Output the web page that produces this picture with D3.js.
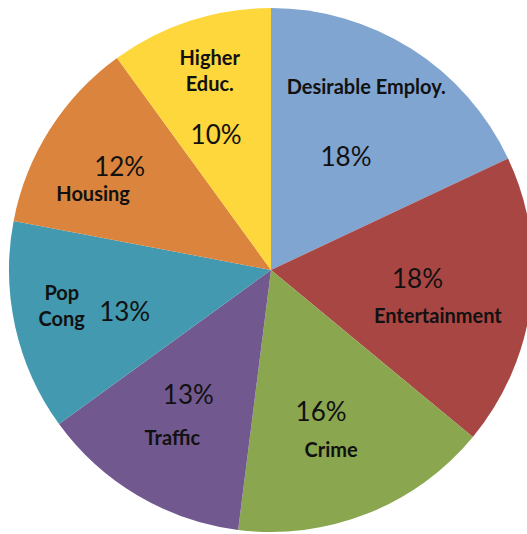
<!DOCTYPE html>
<html>
<head>
<meta charset="utf-8">
<script src="https://cdn.jsdelivr.net/npm/d3@7/dist/d3.min.js"></script>
<style>
  html, body { margin: 0; padding: 0; background: #fff; }
  svg { display: block; }
</style>
</head>
<body>
<script>
// Shares of each concern, clockwise from 12 o'clock
const categories = ["Desirable Employ.", "Entertainment", "Crime", "Traffic", "Pop Cong", "Housing", "Higher Educ."];
const shares = [18, 18, 16, 13, 13, 12, 10];
const nameLines = [["Desirable Employ."], ["Entertainment"], ["Crime"], ["Traffic"], ["Pop", "Cong"], ["Housing"], ["Higher", "Educ."]];
const colors = ["#80A5D0", "#A84644", "#8AA64F", "#71588F", "#4399AF", "#DB843D", "#FDD73B"];

// Label placement relative to each slice's mid-angle: [angle offset (deg), radius fraction]
const pctPlace  = [[1, 0.52], [-4, 0.56], [2, 0.57], [3, 0.57], [-3, 0.58], [2, 0.70], [-4, 0.56]];
const namePlace = [[-5, 0.79], [8, 0.66], [3, 0.72], [0, 0.74], [3, 0.81], [-9, 0.74], [1, 0.80]];

const width = 527, height = 534;
const cx = 271, cy = 270, R = 262;

const svg = d3.select("body").append("svg")
  .attr("width", width).attr("height", height);

const g = svg.append("g").attr("transform", `translate(${cx},${cy})`);

const pie = d3.pie().sort(null).value(d => d)(shares);
const arc = d3.arc().innerRadius(0).outerRadius(R);

g.selectAll("path.slice").data(pie).join("path")
  .attr("class", "slice")
  .attr("d", arc)
  .attr("fill", (d, i) => colors[i]);

function polar(angleRad, r) {
  return [r * Math.sin(angleRad), -r * Math.cos(angleRad)];
}
const deg = Math.PI / 180;

// Percentage labels
g.selectAll("text.pct").data(pie).join("text")
  .attr("class", "pct")
  .each(function (d, i) {
    const mid = (d.startAngle + d.endAngle) / 2 + pctPlace[i][0] * deg;
    const [x, y] = polar(mid, R * pctPlace[i][1]);
    d3.select(this).attr("x", x).attr("y", y);
  })
  .attr("text-anchor", "middle")
  .attr("dominant-baseline", "central")
  .attr("font-family", "Lato, 'Open Sans', sans-serif")
  .attr("font-size", 26)
  .attr("fill", "#111")
  .text(d => d.data + "%");

// Category name labels
g.selectAll("text.name").data(pie).join("text")
  .attr("class", "name")
  .each(function (d, i) {
    const mid = (d.startAngle + d.endAngle) / 2 + namePlace[i][0] * deg;
    const [x, y] = polar(mid, R * namePlace[i][1]);
    const lines = nameLines[i];
    const lh = 26;
    const t = d3.select(this);
    lines.forEach((ln, k) => {
      t.append("tspan")
        .attr("x", x)
        .attr("y", y + (k - (lines.length - 1) / 2) * lh)
        .text(ln);
    });
  })
  .attr("text-anchor", "middle")
  .attr("dominant-baseline", "central")
  .attr("font-family", "Lato, 'Open Sans', sans-serif")
  .attr("font-weight", "bold")
  .attr("font-size", 20)
  .attr("fill", "#111");
</script>
</body>
</html>
